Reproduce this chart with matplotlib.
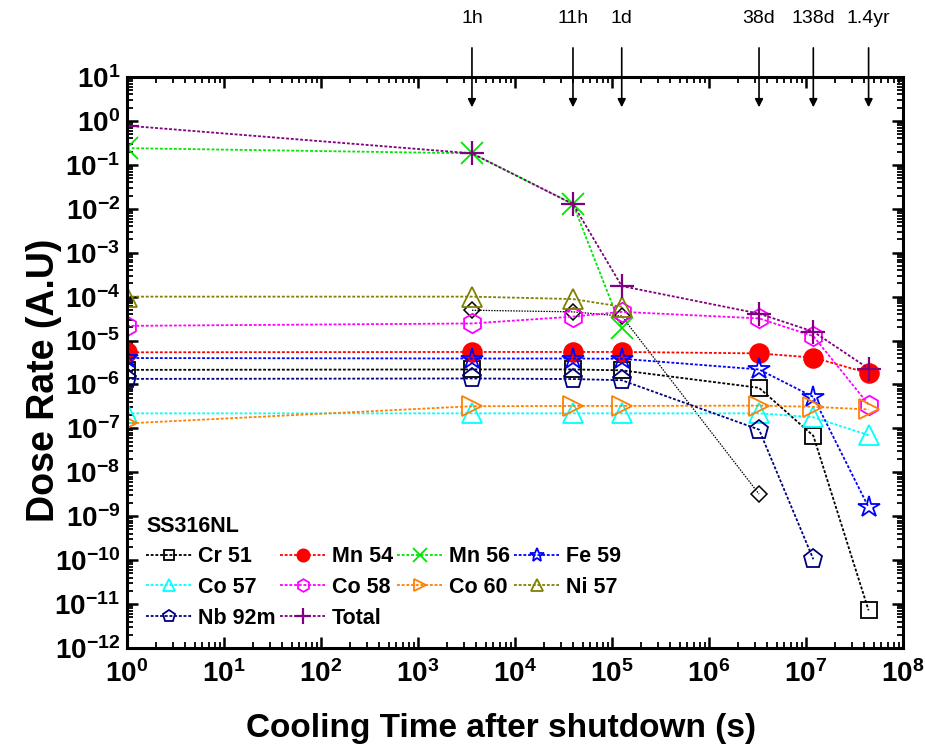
import numpy as np
import matplotlib
matplotlib.use('Agg')
import matplotlib.pyplot as plt
import matplotlib.ticker as ticker

plt.rcParams['font.family'] = 'Liberation Sans'
plt.rcParams['mathtext.fontset'] = 'custom'
plt.rcParams['mathtext.rm'] = 'Liberation Sans'
plt.rcParams['mathtext.bf'] = 'Liberation Sans:bold'

# cooling times (s): start, 1h, 11h, 1d, 38d, 138d, 1.4yr
times = [1, 3600, 39600, 1.26e5, 3.28e6, 1.19e7, 4.42e7]
arrow_labels = ['1h', '11h', '1d', '38d', '138d', '1.4yr']

cr51 = [2.15e-6, 2.2e-6, 2.2e-6, 2.1e-6, 8.4e-7, 6.8e-8, 7.2e-12]
mn54 = [5.4e-6, 5.5e-6, 5.5e-6, 5.5e-6, 5.1e-6, 4.1e-6, 1.8e-6]
mn56 = [0.24, 0.183, 0.0128, 1.9e-5]
fe59 = [4.0e-6, 3.9e-6, 3.9e-6, 3.85e-6, 2.2e-6, 5.2e-7, 1.6e-9]
co57 = [2.2e-7, 2.2e-7, 2.2e-7, 2.2e-7, 2.2e-7, 1.8e-7, 7.0e-8]
co58 = [2.16e-5, 2.45e-5, 3.5e-5, 4.5e-5, 3.2e-5, 1.26e-5, 3.5e-7]
co60 = [1.3e-7, 3.2e-7, 3.25e-7, 3.25e-7, 3.3e-7, 3.1e-7, 2.7e-7]
ni57 = [1.0e-4, 1.0e-4, 8.8e-5, 5.9e-5]
nb92m = [1.34e-6, 1.37e-6, 1.33e-6, 1.25e-6, 9.4e-8, 1.05e-10]
total = [0.78, 0.183, 0.0128, 1.74e-4, 4.1e-5, 1.6e-5, 2.3e-6]
# unlabelled black diamond series (1h .. 38d)
extra = [4.9e-5, 4.5e-5, 3.6e-5, 3.2e-9]

fig = plt.figure(figsize=(9.25, 7.55), dpi=100)
ax = fig.add_axes([0.1373, 0.1417, 0.8389, 0.7563])

ls = (0, (1.6, 1.0))
lw = 1.3

def series(x, y, color, marker, ms, label, filled=False, mew=1.3):
    h, = ax.plot(x, y, linestyle=ls, lw=lw, color=color, marker=marker, ms=ms,
                 mfc=color if filled else 'none', mec=color, mew=mew, label=label)
    return h

ax.plot(times[1:5], extra, linestyle=(0, (1.2, 1.0)), lw=0.9, color='black',
        marker='D', ms=8, mfc='none', mec='black', mew=1.1, label='_nolegend_')
h_cr = series(times, cr51, 'black', 's', 12, 'Cr 51')
h_mn54 = series(times, mn54, 'red', 'o', 13.5, 'Mn 54', filled=True)
h_mn56 = series(times[:4], mn56, '#00e600', 'x', 16, 'Mn 56')
h_fe = series(times, fe59, 'blue', '*', 16, 'Fe 59')
h_co57 = series(times, co57, 'cyan', '^', 14, 'Co 57')
h_co58 = series(times, co58, 'magenta', 'h', 14, 'Co 58')
h_co60 = series(times, co60, '#ff8000', '>', 14, 'Co 60')
h_ni = series(times[:4], ni57, '#808000', '^', 14, 'Ni 57')
h_nb = series(times[:6], nb92m, '#000080', 'p', 14, 'Nb 92m')
h_tot = series(times, total, '#800080', '+', 17, 'Total', mew=1.6)

ax.set_xscale('log')
ax.set_yscale('log')
ax.set_xlim(1, 1e8)
ax.set_ylim(1e-12, 1e1)

ax.xaxis.set_major_locator(ticker.LogLocator(base=10, numticks=20))
ax.yaxis.set_major_locator(ticker.LogLocator(base=10, numticks=20))
ax.xaxis.set_minor_locator(ticker.LogLocator(base=10, subs=np.arange(2, 10), numticks=100))
ax.yaxis.set_minor_locator(ticker.LogLocator(base=10, subs=np.arange(2, 10), numticks=100))
fmt = ticker.FuncFormatter(lambda v, p: r'$\mathbf{10^{%d}}$' % int(round(np.log10(v))))
ax.xaxis.set_major_formatter(fmt)
ax.yaxis.set_major_formatter(fmt)
ax.xaxis.set_minor_formatter(ticker.NullFormatter())
ax.yaxis.set_minor_formatter(ticker.NullFormatter())

ax.tick_params(which='both', direction='in', top=True, right=True)
ax.tick_params(which='major', length=8, width=1.8, labelsize=20)
ax.tick_params(which='minor', length=4, width=1.3)
ax.tick_params(axis='x', pad=9)
ax.tick_params(axis='y', pad=5)
for sp in ax.spines.values():
    sp.set_linewidth(2.2)

ax.set_xlabel('Cooling Time after shutdown (s)', fontsize=24, fontweight='bold')
ax.set_ylabel('Dose Rate (A.U)', fontsize=27, fontweight='bold')
ax.xaxis.set_label_coords(0.482, -0.114)
ax.yaxis.set_label_coords(-0.084, 0.469)

# arrows marking the cooling times
trans = ax.get_xaxis_transform()
for t, lab in zip(times[1:], arrow_labels):
    ax.annotate('', xy=(t, 0.947), xytext=(t, 1.051), xycoords=trans, textcoords=trans,
                arrowprops=dict(arrowstyle='-|>', color='black', lw=1.2, mutation_scale=12,
                                shrinkA=0, shrinkB=0),
                annotation_clip=False)
    ax.text(t, 1.102, lab, transform=trans, ha='center', va='center', fontsize=14)

handles = [h_cr, h_co57, h_nb, h_mn54, h_co58, h_tot, h_mn56, h_co60, h_fe, h_ni]
leg = ax.legend(handles=handles, ncol=4, loc='lower left', bbox_to_anchor=(0.0, 0.0),
                frameon=False, fontsize=15.5, title='SS316NL', alignment='left',
                title_fontproperties={'weight': 'bold', 'size': 15.5},
                handlelength=2.1, handletextpad=0.3, columnspacing=0.2,
                labelspacing=0.45, markerscale=0.65, borderpad=0.4)
for txt in leg.get_texts():
    txt.set_fontweight('bold')

fig.savefig('out.png', dpi=100)
